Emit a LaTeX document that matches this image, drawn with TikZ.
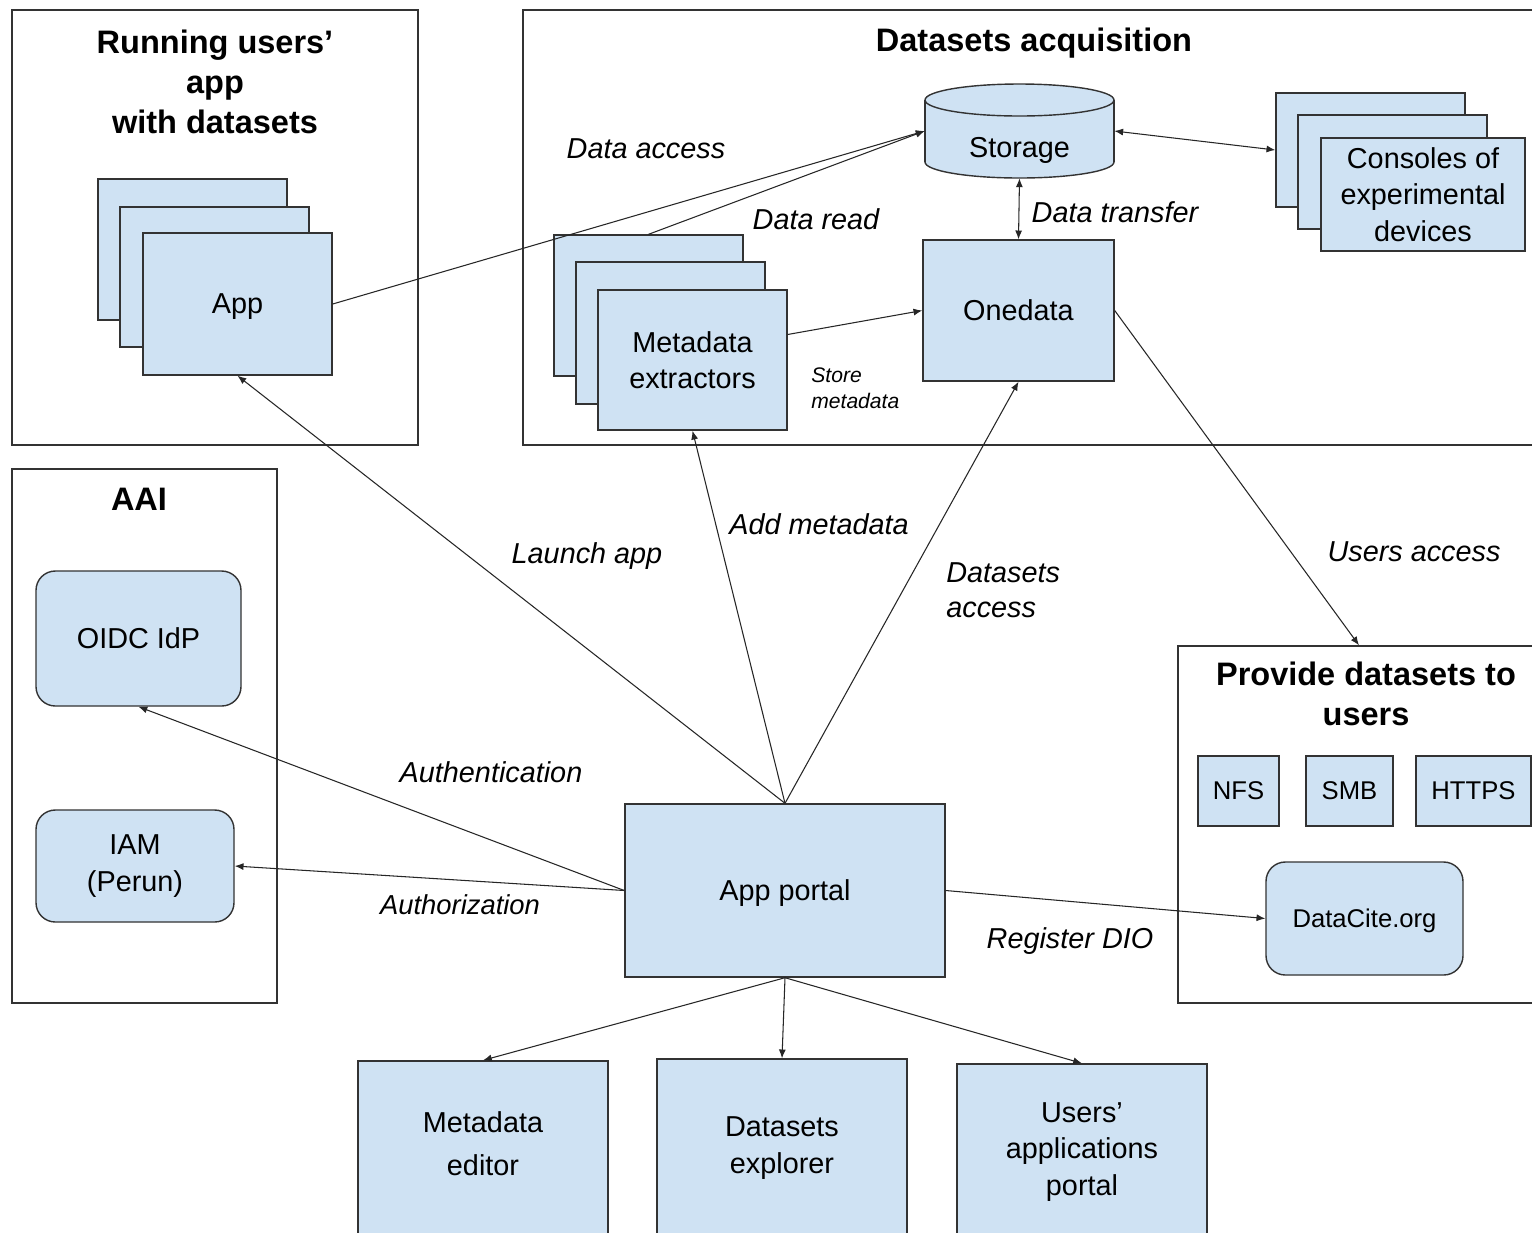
\documentclass[tikz,border=0pt]{standalone}
\usepackage{fontspec}
\setmainfont{Liberation Sans}
\usetikzlibrary{arrows.meta,calc}
\newlength\pxu \setlength\pxu{0.02cm}
\definecolor{lblue}{HTML}{CFE2F3}
\definecolor{edgec}{HTML}{333333}
\newcommand\fN{\fontsize{16.4}{20.6}\selectfont}
\newcommand\fS{\fontsize{14.6}{18}\selectfont}
\newcommand\fT{\fontsize{18.5}{22.7}\selectfont\bfseries}
\newcommand\fL{\fontsize{16.4}{20}\selectfont\itshape}
\newcommand\fLs{\fontsize{15.6}{19}\selectfont\itshape}
\newcommand\fLt{\fontsize{12}{14.7}\selectfont\itshape}
\begin{document}
\begin{tikzpicture}[x=0.02cm,y=-0.02cm,
 bluebox/.style={draw=edgec, fill=lblue, line width=0.8pt, inner sep=0pt, align=center, font=\fN},
 rbox/.style={bluebox, rounded corners=11pt},
 grp/.style={draw=edgec, line width=0.8pt, inner sep=0pt},
 ttl/.style={font=\fT, align=center, inner sep=0pt},
 lab/.style={font=\fL, inner sep=0pt, align=left},
 txt/.style={font=\fN, align=center, inner sep=0pt},
 arr/.style={draw=black!85, line width=0.6pt, -{Latex[length=5pt,width=4pt]}},
 darr/.style={draw=black!85, line width=0.6pt, {Latex[length=5pt,width=4pt]}-{Latex[length=5pt,width=4pt]}}]
\useasboundingbox (0,0) rectangle (1532,1232);
\fill[white] (0,0) rectangle (1532,1232);
\clip (0,0) rectangle (1532,1232);

% group frames
\node[grp, minimum width=406\pxu, minimum height=435\pxu] (grpA) at (215,227.5) {};
\node[grp, minimum width=1017\pxu, minimum height=435\pxu] (grpB) at (1031.5,227.5) {};
\node[grp, minimum width=265\pxu, minimum height=534\pxu] (grpC) at (144.5,736) {};
\node[grp, minimum width=362\pxu, minimum height=357\pxu] (pdu) at (1359,824.5) {};

% titles
\node[ttl] (tA) at (215,82) {Running users’\\app\\with datasets};
\node[ttl] (tB) at (1034,43) {Datasets acquisition};
\node[ttl] (tC) at (139,499) {AAI};
\node[ttl] (tD) at (1366,694) {Provide datasets to\\users};

% App stack
\node[bluebox, minimum width=189\pxu, minimum height=141\pxu] (app3) at (192.5,249.5) {};
\node[bluebox, minimum width=189\pxu, minimum height=140\pxu] (app2) at (214.5,277) {};
\node[bluebox, text depth=0pt, minimum width=189\pxu, minimum height=142\pxu] (app) at (237.5,304) {App};

% Metadata extractors stack
\node[bluebox, minimum width=189\pxu, minimum height=141\pxu] (mx3) at (648.5,305.5) {};
\node[bluebox, minimum width=189\pxu, minimum height=142\pxu] (mx2) at (670.5,333) {};
\node[bluebox, minimum width=189\pxu, minimum height=140\pxu] (mx) at (692.5,360) {Metadata\\extractors};

% Consoles stack
\node[bluebox, minimum width=189\pxu, minimum height=114\pxu] (cons3) at (1370.5,150) {};
\node[bluebox, minimum width=189\pxu, minimum height=114\pxu] (cons2) at (1392.5,172) {};
\node[bluebox, minimum width=204\pxu, minimum height=113\pxu] (cons) at (1423,194.5) {Consoles of\\experimental\\devices};

% Storage cylinder
\filldraw[draw=edgec, fill=lblue, line width=0.8pt] (1019.5,162) ellipse [x radius=94.5\pxu, y radius=16\pxu];
\fill[lblue] (925,100) rectangle (1114,162);
\draw[edgec, line width=0.8pt] (925,100) -- (925,162) (1114,100) -- (1114,162);
\filldraw[draw=edgec, fill=lblue, line width=0.8pt] (1019.5,100) ellipse [x radius=94.5\pxu, y radius=16\pxu];
\node[txt, minimum width=189\pxu, minimum height=94\pxu] (storage) at (1019.5,131) {};
\node[txt, text depth=0pt] (storaget) at (1019.5,147) {Storage};

% Onedata
\node[bluebox, minimum width=191\pxu, minimum height=141\pxu] (onedata) at (1018.5,310.5) {Onedata};

% AAI
\node[rbox, minimum width=205\pxu, minimum height=135\pxu] (oidc) at (138.5,638.5) {OIDC IdP};
\node[rbox, minimum width=198\pxu, minimum height=112\pxu] (iam) at (135,866) {IAM\\(Perun)};

% App portal
\node[bluebox, text depth=0pt, minimum width=320\pxu, minimum height=173\pxu] (portal) at (785,890.5) {App portal};

% Provide datasets
\node[bluebox, font=\fS, minimum width=81\pxu, minimum height=70\pxu] (nfs) at (1238.5,791) {NFS};
\node[bluebox, font=\fS, minimum width=87\pxu, minimum height=70\pxu] (smb) at (1349.5,791) {SMB};
\node[bluebox, font=\fS, minimum width=115\pxu, minimum height=70\pxu] (https) at (1473.5,791) {HTTPS};
\node[rbox, font=\fS, text depth=0pt, minimum width=197\pxu, minimum height=113\pxu] (datacite) at (1364.5,918.5) {DataCite.org};

% bottom boxes
\node[bluebox, minimum width=250\pxu, minimum height=185\pxu] (med) at (483,1153.5) {};
\node[txt] (medt) at (483,1143.5) {Metadata\\[4pt]editor};
\node[bluebox, minimum width=250\pxu, minimum height=187\pxu] (dex) at (782,1152.5) {};
\node[txt] (dext) at (782,1148) {Datasets\\explorer};
\node[bluebox, minimum width=250\pxu, minimum height=182\pxu] (uap) at (1082,1155) {};
\node[txt] (uapt) at (1082,1152) {Users’\\applications\\portal};

% connectors
\draw[arr] (app.east) -- (storage.west);
\draw[arr] (mx3.north) -- (storage.west);
\draw[darr] (storage.east) -- (cons3.west);
\draw[darr] (storage.south) -- (onedata.north);
\draw[arr] (mx.15) -- (onedata.west);
\draw[arr] (portal.north) -- (app.south);
\draw[arr] (portal.north) -- (mx.south);
\draw[arr] (portal.north) -- (onedata.south);
\draw[arr] (onedata.east) -- (pdu.north);
\draw[arr] (portal.west) -- (oidc.south);
\draw[arr] (portal.west) -- (iam.east);
\draw[arr] (portal.east) -- (datacite.west);
\draw[arr] (portal.south) -- (med.north);
\draw[arr] (portal.south) -- (dex.north);
\draw[arr] (portal.south) -- (uap.north);

% labels
\node[lab] (lda) at (646,149) {Data access};
\node[lab] (ldr) at (816,219) {Data read};
\node[lab] (ldt) at (1115,212) {Data transfer};
\node[lab, font=\fLt, anchor=west] (lsm) at (811,388) {Store\\metadata};
\node[lab] (lla) at (587,556) {Launch app};
\node[lab] (lam) at (819,524) {Add metadata};
\node[lab, anchor=west] (lds) at (946,590) {Datasets\\access};
\node[lab] (lua) at (1414,552) {Users access};
\node[lab] (lau) at (491,772) {Authentication};
\node[lab, font=\fLs] (laz) at (460,905) {Authorization};
\node[lab] (lrd) at (1070,941) {Register DIO};
\end{tikzpicture}
\end{document}
